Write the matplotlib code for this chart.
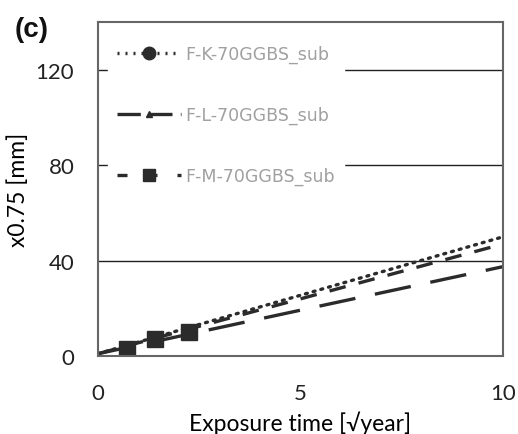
import numpy as np
import matplotlib
matplotlib.use('Agg')
import matplotlib.pyplot as plt

plt.rcParams['font.family'] = ['Lato', 'DejaVu Sans']

# measured points (sqrt-year, x0.75 in mm)
t_obs = [0.71, 1.41, 2.24]
k_obs = [3.2, 7.4, 10.2]
l_obs = [3.0, 7.0, 9.6]
m_obs = [3.0, 7.2, 10.0]

# fitted trend lines
t_fit = [0.0, 10.0]
k_fit = [1.0, 50.0]
l_fit = [1.0, 37.5]
m_fit = [1.0, 47.0]

labels = ['F-K-70GGBS_sub', 'F-L-70GGBS_sub', 'F-M-70GGBS_sub']

ink = '#2b2b2b'

fig = plt.figure(figsize=(5.18, 4.35), dpi=100)
ax = fig.add_axes([0.189, 0.179, 0.782, 0.768])

ax.plot(t_fit, k_fit, color=ink, lw=2.4, ls=(0, (0.6, 1.8)), dash_capstyle='round')
ax.plot(t_fit, l_fit, color=ink, lw=2.4, ls=(0, (11, 6)))
ax.plot(t_fit, m_fit, color=ink, lw=2.4, ls=(0, (5, 4)))

ax.plot(t_obs, k_obs, 'o', color=ink, ms=7, ls='none')
ax.plot(t_obs, l_obs, '^', color=ink, ms=6, ls='none')
ax.plot(t_obs, m_obs, 's', color=ink, ms=12, ls='none')

# legend handles combine line style and marker
h1, = ax.plot([], [], color=ink, lw=2.4, ls=(0, (0.6, 1.8)), marker='o', ms=9)
h2, = ax.plot([], [], color=ink, lw=2.4, ls=(0, (7, 2.5)), marker='^', ms=5)
h3, = ax.plot([], [], color=ink, lw=2.4, ls=(0, (3, 6)), marker='s', ms=8)

ax.set_xlim(0, 10)
ax.set_ylim(0, 140)
ax.set_xticks([0, 5, 10])
ax.set_yticks([0, 40, 80, 120])
ax.tick_params(length=0, labelsize=16, colors='#222222')
ax.tick_params(axis='x', pad=19)
ax.tick_params(axis='y', pad=17)
ax.yaxis.grid(True, color='#222222', lw=1.0)
ax.set_axisbelow(True)
for s in ax.spines.values():
    s.set_color('#666666')
    s.set_linewidth(1.5)

ax.set_xlabel('Exposure time [\u221ayear]', fontsize=16.5, labelpad=6)
ax.set_ylabel('x0.75 [mm]', fontsize=16.5, labelpad=5)

leg = ax.legend([h1, h2, h3], labels, loc='upper left',
                bbox_to_anchor=(0.025, 0.957), frameon=True, fancybox=False,
                edgecolor='white', facecolor='white', framealpha=1,
                prop={'family': 'DejaVu Sans', 'size': 12.5},
                labelspacing=2.45, handlelength=3.7,
                handletextpad=0.25, borderpad=0.5, borderaxespad=0)
for txt in leg.get_texts():
    txt.set_color('#a0a0a0')

fig.text(0.028, 0.915, '(c)', fontsize=20, fontweight='bold',
         family='Liberation Sans', color='#111111')

fig.savefig('out.png', dpi=100)
